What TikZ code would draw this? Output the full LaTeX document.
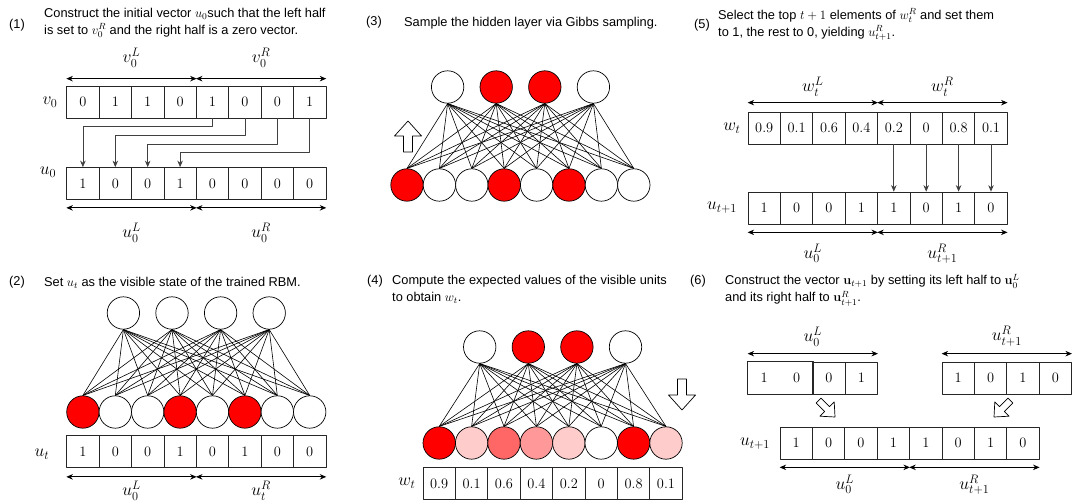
\RequirePackage{fix-cm}
\documentclass[tikz,border=0pt]{standalone}
\usepackage[no-math]{fontspec}
\newfontfamily\descfont{Liberation Sans}
\usetikzlibrary{positioning,arrows.meta}

\tikzset{
  cell/.style={draw=black!85, line width=0.7pt, minimum width=32.4pt, minimum height=32pt, inner sep=0pt, font=\fontsize{14.4}{16}\selectfont},
  bare/.style={cell, draw=none},
  unit/.style={circle, draw, line width=0.7pt, minimum size=32.4pt, inner sep=0pt},
  fired/.style={fill=red},
  idle/.style={fill=white},
  pale/.style={fill=red!20},
  half/.style={fill=red!60},
  soft/.style={fill=red!40},
  span/.style={<->, line width=0.8pt},
  link/.style={->, black!75, line width=0.7pt},
  wire/.style={line width=0.6pt},
  lbl/.style={inner sep=0pt, font=\fontsize{17.5}{19}\selectfont},
  desc/.style={inner sep=0pt, align=left, anchor=base west, font=\descfont\fontsize{12.8}{17}\selectfont},
  numlabel/.style={inner sep=0pt, font=\descfont\fontsize{12.8}{14}\selectfont},
  hollow arrow/.pic={\draw[line width=0.7pt, fill=white] (0,0) -- (13.5,15) -- (4.5,15) -- (4.5,31) -- (-4.5,31) -- (-4.5,15) -- (-13.5,15) -- cycle;}
}

\begin{document}
\begin{tikzpicture}[x=1pt,y=-1pt,>={Stealth[length=6.5pt,width=5.5pt]},line join=round]
  \useasboundingbox (0,0) rectangle (1074,502);
  \def\cw{32.4}

  % (1) initial vector
  \node[numlabel] (n1) at (17,25) {(1)};
  \node[desc] (d1) at (44,34.5) {Construct the initial vector $u_0$such that the left half\\is set to $v_0^R$ and the right half is a zero vector.};
  \foreach \v [count=\i] in {0,1,1,0,1,0,0,1}
    \node[cell] (a\i) at ({66.7+\cw*(\i-0.5)},102) {$\v$};
  \foreach \v [count=\i] in {1,0,0,1,0,0,0,0}
    \node[cell] (b\i) at ({66.7+\cw*(\i-0.5)},183.5) {$\v$};
  \node[lbl] (alab) at (50,102) {$v_0$};
  \node[lbl] (blab) at (48,172) {$u_0$};
  \draw[span] ([yshift=7pt]a1.north west) -- ([yshift=7pt]a4.north east) node[lbl, midway, above=11pt] (avl) {$v_0^L$};
  \draw[span] ([yshift=7pt]a5.north west) -- ([yshift=7pt]a8.north east) node[lbl, midway, above=11pt] (avr) {$v_0^R$};
  \draw[span] ([yshift=-8pt]b1.south west) -- ([yshift=-8pt]b4.south east) node[lbl, midway, below=15pt] (bul) {$u_0^L$};
  \draw[span] ([yshift=-8pt]b5.south west) -- ([yshift=-8pt]b8.south east) node[lbl, midway, below=15pt] (bur) {$u_0^R$};
  \foreach \i/\j/\d in {5/1/8,6/2/17,7/3/26,8/4/34}
    \draw[link] (a\i.south) -- ++(0,\d) -| (b\j.north);

  % (2) visible state
  \node[numlabel] (n2) at (17,282) {(2)};
  \node[desc] (d2) at (44,286.5) {Set $u_t$ as the visible state of the trained RBM.};
  \foreach \j in {1,...,4}
    \node[unit,idle] (h\j) at ({196.3+48.6*(\j-2.5)},313) {};
  \foreach \s [count=\i] in {fired,idle,idle,fired,idle,fired,idle,idle}
    \node[unit,\s] (c\i) at ({66.7+\cw*(\i-0.5)},412) {};
  \foreach \j in {1,...,4}
    \foreach \i in {1,...,8}
      \draw[wire] (h\j.south) -- (c\i.north);
  \foreach \v [count=\i] in {1,0,0,1,0,1,0,0}
    \node[cell] (e\i) at ({66.7+\cw*(\i-0.5)},451.5) {$\v$};
  \node[lbl] (elab) at (42,454) {$u_t$};
  \draw[span] ([yshift=-9pt]e1.south west) -- ([yshift=-9pt]e4.south east) node[lbl, midway, below=4pt] (eul) {$u_0^L$};
  \draw[span] ([yshift=-9pt]e5.south west) -- ([yshift=-9pt]e8.south east) node[lbl, midway, below=4pt] (eur) {$u_t^R$};

  % (3) sample hidden layer
  \node[numlabel] (n3) at (374,22) {(3)};
  \node[desc] (d3) at (404,26.5) {Sample the hidden layer via Gibbs sampling.};
  \foreach \s [count=\j] in {idle,fired,fired,idle}
    \node[unit,\s] (g\j) at ({520.5+48.6*(\j-2.5)},87) {};
  \foreach \s [count=\i] in {fired,idle,idle,fired,idle,fired,idle,idle}
    \node[unit,\s] (f\i) at ({390.8+\cw*(\i-0.5)},185) {};
  \foreach \j in {1,...,4}
    \foreach \i in {1,...,8}
      \draw[wire] (g\j.south) -- (f\i.north);
  \pic at (408,121) {hollow arrow};

  % (4) expected visible values
  \node[numlabel] (n4) at (375,281) {(4)};
  \node[desc] (d4) at (392,301.5) {Compute the expected values of the visible units\\to obtain $w_t$.};
  \foreach \s [count=\j] in {idle,fired,fired,idle}
    \node[unit,\s] (k\j) at ({552.6+48.6*(\j-2.5)},347) {};
  \foreach \s [count=\i] in {fired,pale,half,soft,pale,idle,fired,pale}
    \node[unit,\s] (m\i) at ({423+\cw*(\i-0.5)},443) {};
  \foreach \j in {1,...,4}
    \foreach \i in {1,...,8}
      \draw[wire] (k\j.south) -- (m\i.north);
  \foreach \v [count=\i] in {0.9,0.1,0.6,0.4,0.2,0,0.8,0.1}
    \node[cell] (q\i) at ({423+\cw*(\i-0.5)},483.5) {$\v$};
  \node[lbl] (qlab) at (407,483) {$w_t$};
  \pic[rotate=180] at (682,410) {hollow arrow};

  % (5) top t+1 selection
  \node[numlabel] (n5) at (702,25) {(5)};
  \node[desc] (d5) at (718,36.5) {Select the top $t+1$ elements of $w_t^R$ and set them\\to 1, the rest to 0, yielding $u_{t+1}^R$.};
  \foreach \v [count=\i] in {0.9,0.1,0.6,0.4,0.2,0,0.8,0.1}
    \node[cell] (w\i) at ({748+\cw*(\i-0.5)},128) {$\v$};
  \foreach \v [count=\i] in {1,0,0,1,1,0,1,0}
    \node[cell] (x\i) at ({748+\cw*(\i-0.5)},208) {$\v$};
  \node[lbl] (wlab) at (732,128) {$w_t$};
  \node[lbl] (xlab) at (722,208) {$u_{t+1}$};
  \draw[span] ([yshift=9pt]w1.north west) -- ([yshift=9pt]w4.north east) node[lbl, midway, above=6pt] (wwl) {$w_t^L$};
  \draw[span] ([yshift=9pt]w5.north west) -- ([yshift=9pt]w8.north east) node[lbl, midway, above=6pt] (wwr) {$w_t^R$};
  \draw[span] ([yshift=-8pt]x1.south west) -- ([yshift=-8pt]x4.south east) node[lbl, midway, below=11pt] (xul) {$u_0^L$};
  \draw[span] ([yshift=-8pt]x5.south west) -- ([yshift=-8pt]x8.south east) node[lbl, midway, below=11pt] (xur) {$u_{t+1}^R$};
  \foreach \i in {5,...,8}
    \draw[link] (w\i.south) -- (x\i.north);

  % (6) join both halves
  \node[numlabel] (n6) at (698,281) {(6)};
  \node[desc] (d6) at (725,302) {Construct the vector $\mathbf{u}_{t+1}$ by setting its left half to $\mathbf{u}_0^L$\\and its right half to $\mathbf{u}_{t+1}^R$.};
  \foreach \v/\s [count=\i] in {1/bare,0/bare,0/cell,1/cell}
    \node[\s] (l\i) at ({748+\cw*(\i-0.5)},378) {$\v$};
  \draw[draw=black!85, line width=0.7pt] (l1.north west) rectangle (l2.south east);
  \foreach \v [count=\i] in {1,0,1,0}
    \node[cell] (r\i) at ({942+\cw*(\i-0.5)},378) {$\v$};
  \draw[span] ([yshift=8pt]l1.north west) -- ([yshift=8pt]l4.north east) node[lbl, midway, above=7pt] (lul) {$u_0^L$};
  \draw[span] ([yshift=8pt]r1.north west) -- ([yshift=8pt]r4.north east) node[lbl, midway, above=7pt] (rur) {$u_{t+1}^R$};
  \pic[scale=0.75, rotate=-135] at (835,417) {hollow arrow};
  \pic[scale=0.75, rotate=135] at (994,417) {hollow arrow};
  \foreach \v [count=\i] in {1,0,0,1,1,0,1,0}
    \node[cell] (z\i) at ({780+\cw*(\i-0.5)},443) {$\v$};
  \node[lbl] (zlab) at (755,444) {$u_{t+1}$};
  \draw[span] ([yshift=-8pt]z1.south west) -- ([yshift=-8pt]z4.south east) node[lbl, midway, below=7pt] (zul) {$u_0^L$};
  \draw[span] ([yshift=-8pt]z5.south west) -- ([yshift=-8pt]z8.south east) node[lbl, midway, below=7pt] (zur) {$u_{t+1}^R$};
\end{tikzpicture}
\end{document}
